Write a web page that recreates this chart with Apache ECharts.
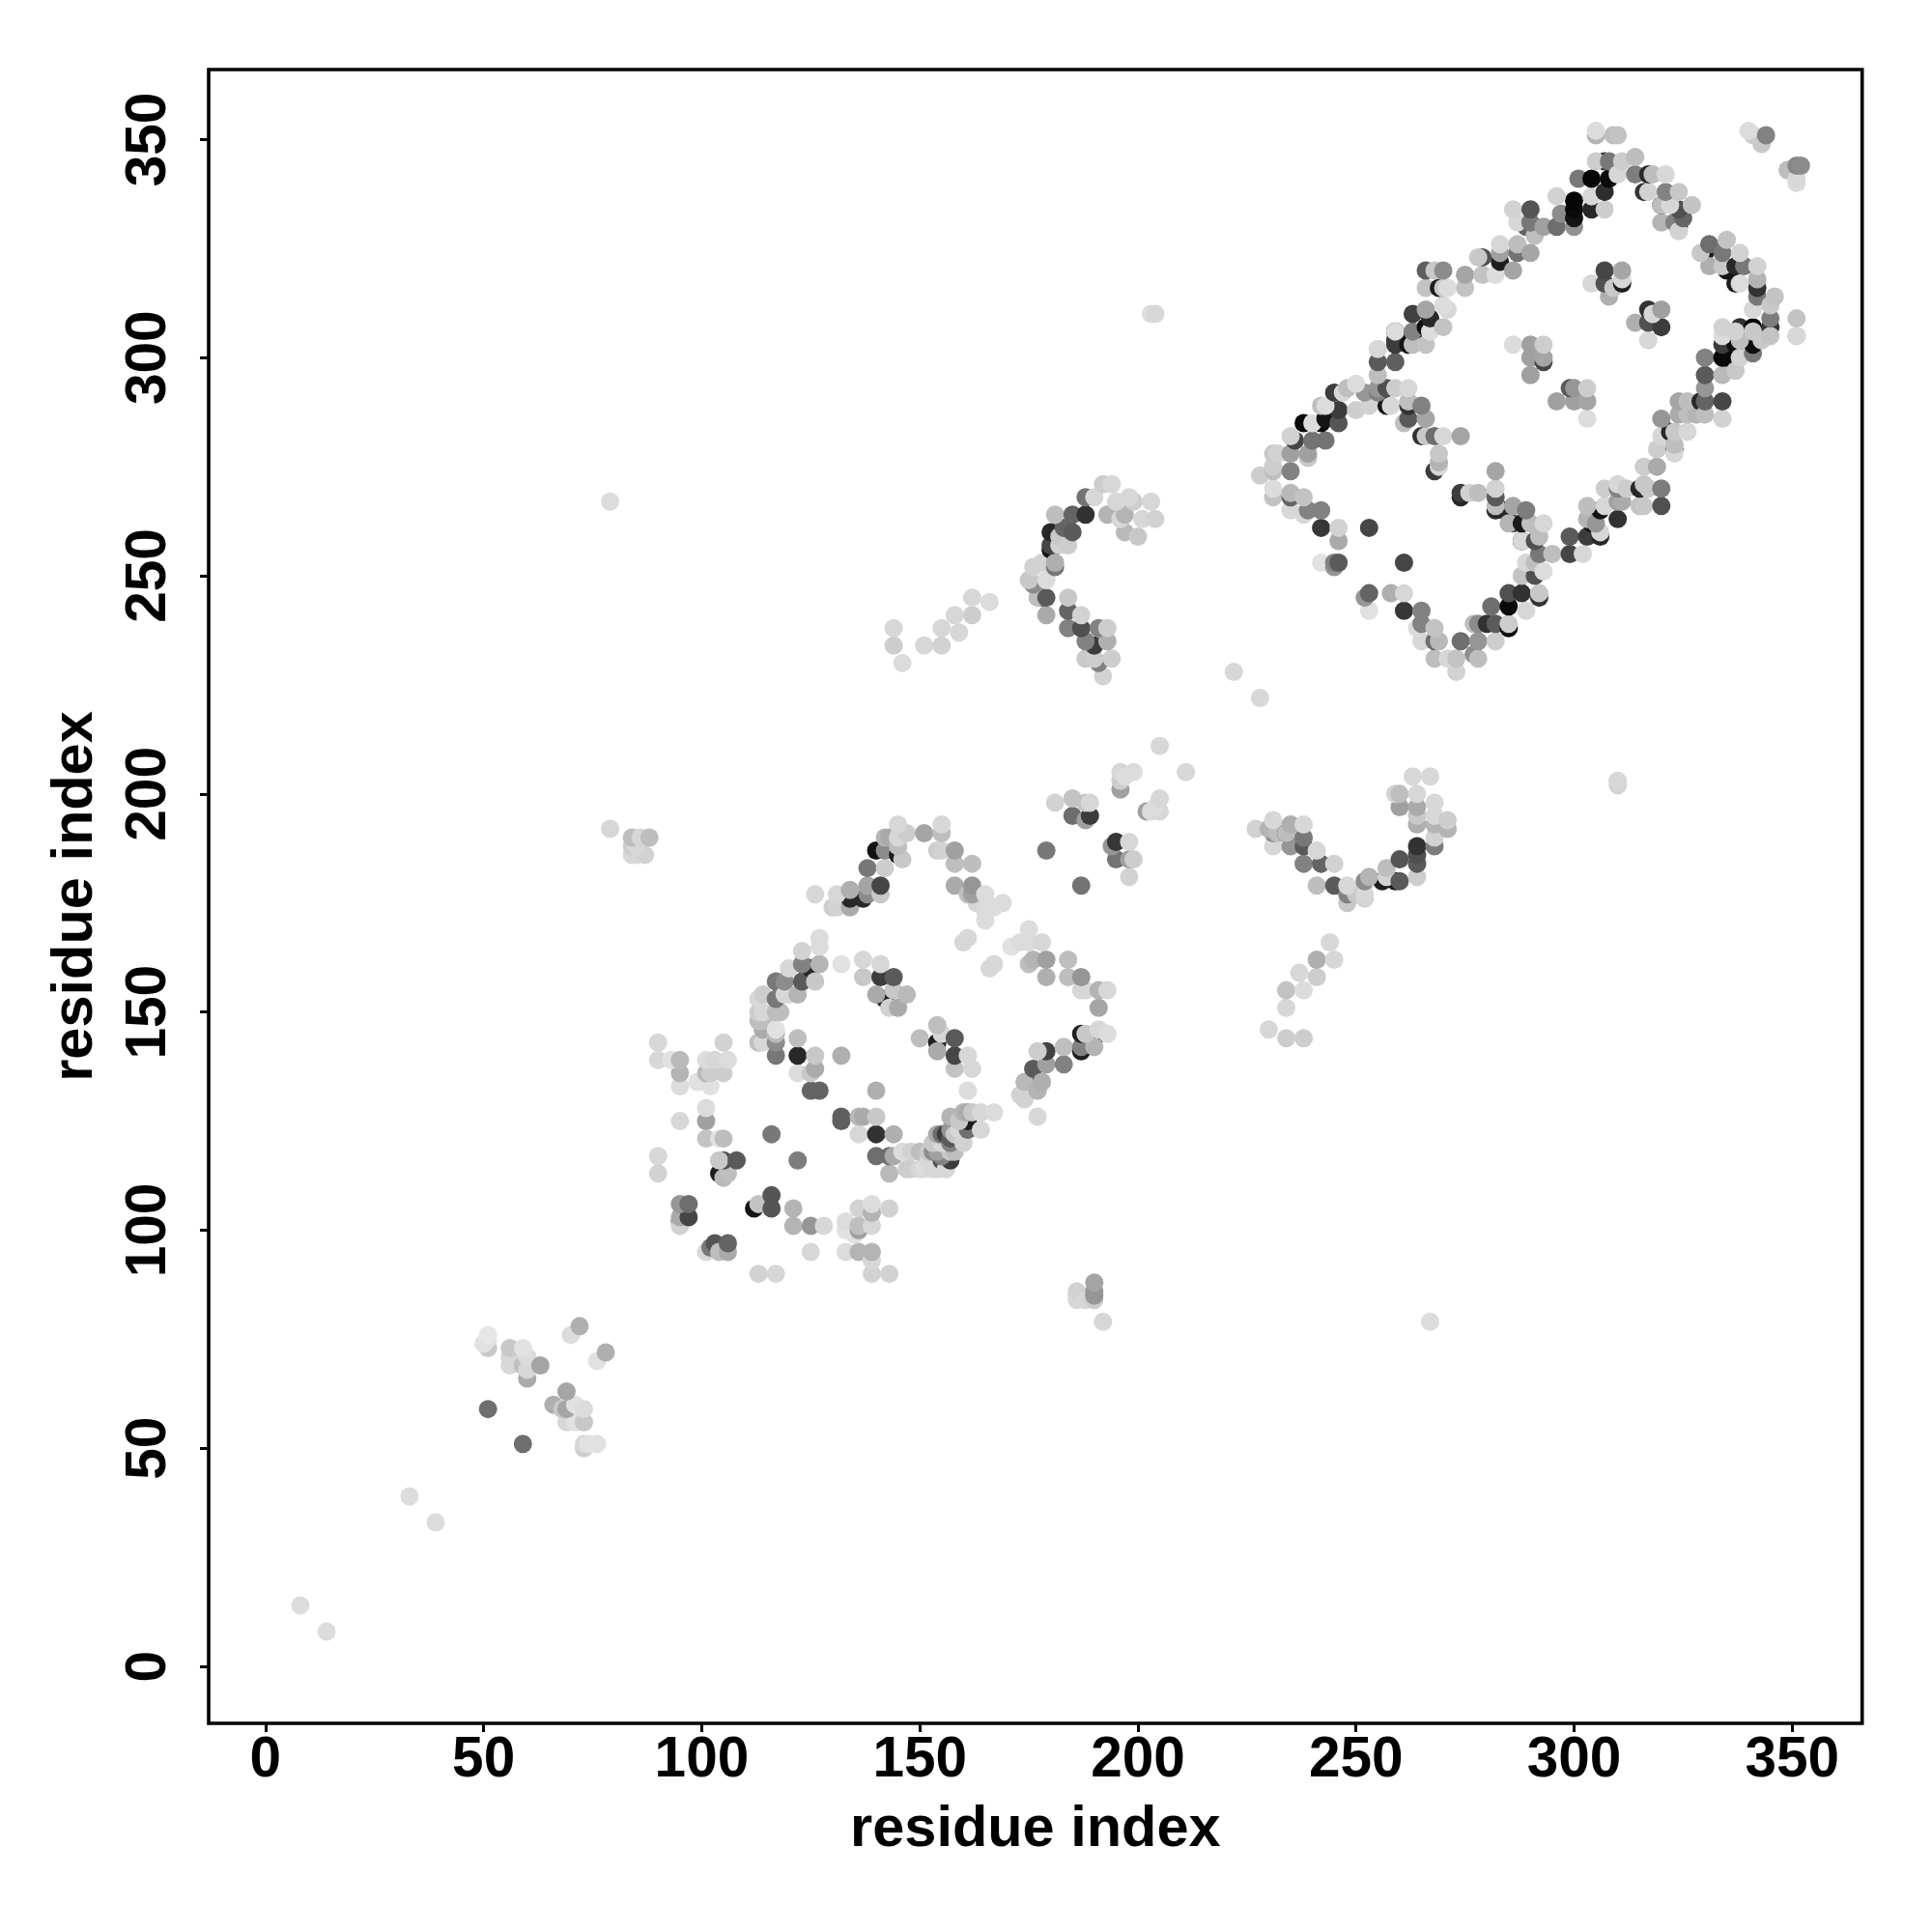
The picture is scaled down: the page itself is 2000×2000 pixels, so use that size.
<!DOCTYPE html>
<html><head><meta charset="utf-8">
<style>html,body{margin:0;padding:0;background:#fff}#c{width:2000px;height:2000px}</style>
<script src="https://cdn.jsdelivr.net/npm/echarts@6/dist/echarts.min.js"></script>
</head><body><div id="c"></div>
<script>
// each contact: [residue x, residue y, grey level 0-255]
const axisName = "residue index";
const tickValues = [0,50,100,150,200,250,300,350];
const isolated = [[8,14,220],[14,8,220],[33,39,220],[39,33,220],[79,267,220],[267,79,220],[203,310,220],[204,310,215],[310,203,215],[310,202,210],[222,228,215],[228,222,215],[79,192,215],[192,79,215],[205,211,215],[211,205,215],[166,244,220],
[84,190,190],[86,190,215],[88,190,190],[84,188,205],[85,188,215],[84,186,215],[85,186,215],[87,186,210],
[186,84,215],[186,85,215],[186,86,210],[188,84,215],[190,84,205],[190,85,150],[190,86,150],[190,88,165]];
const cluster50 = [[51,59,110],[59,51,110],[72,78,175],[70,76,220],[78,72,175],[76,70,225],[51,73,200],[50,74,225],[51,75,225],[51,76,230],[56,73,200],[56,71,215],[56,69,215],[59,73,225],[60,71,220],[59,69,190],[60,68,215],[60,66,170],[63,69,165],[69,63,165],[66,60,175],[68,59,200],[69,59,165],[69,56,215],[71,60,225],[73,59,220],[73,56,200],[71,56,225],[73,51,215],[73,50,205],[74,51,225],[76,51,225]];
const blockLowLeft = [[90,143,215],[90,139,215],[93,139,225],[95,139,185],[95,136,180],[95,133,220],[101,139,220],[103,139,215],[106,139,220],[105,143,210],[105,136,205],[101,136,185],[102,136,205],[99,134,225],[101,134,225],[102,133,225],[101,128,220],[101,125,160],[95,125,215],[101,121,195],[104,121,225],[105,121,190],[90,117,215],[90,113,210],[104,116,200],[105,116,80],[108,116,90],[104,113,30],[106,113,190],[105,112,185],[116,122,120],[122,116,125],[116,108,85],[116,105,85],[112,105,20],[113,106,195],[121,105,180],[121,101,180],[125,101,150],[128,101,215],[95,106,150],[97,106,110],[95,103,170],[97,103,70],[95,102,120],[95,101,210],[103,97,85],[101,95,215],[102,96,120],[106,97,100],[106,95,170],[104,95,190],[125,95,215],[113,90,210],[117,90,215],[133,102,220],[133,100,225],[135,99,225],[136,105,210],[139,106,220],[139,104,180],[143,105,210],[136,101,190],[136,100,160],[139,101,215],[133,95,220],[136,95,180],[139,95,180],[139,93,215],[139,90,210],[143,90,210]];
const ringOneLow = [[122,144,190],[122,140,40],[126,140,200],[122,136,220],[126,137,170],[125,136,200],[125,132,100],[127,132,100],[132,140,175],[140,132,175],[161,132,220],[132,126,95],[132,125,95],[136,126,185],[137,126,170],[140,126,200],[136,122,215],[140,122,50],[144,122,175],[140,117,110],[143,117,110],[144,117,170],[143,113,185],[147,114,205],[148,114,205],[150,114,215],[154,114,215],[146,118,220],[148,118,210],[150,118,190],[157,116,60],[157,118,200],[157,120,130],[154,122,170],[156,122,60],[157,126,180],[161,127,170],[161,125,30],[161,123,110],[164,123,215],[160,120,210],[164,127,215],[167,127,220],[177,126,215],[152,116,215],[153,114,215],[152,118,200],[154,118,160],[155,117,130],[156,114,215],[151,114,220],[155,120,215],[153,120,200],[157,123,150],[158,122,200],[159,123,215],[159,125,200],[160,127,180],[159,124,100],[162,127,200],[155,116,80],[158,118,190],[157,121,90],[155,122,110],[153,118,140]];
const ringOneTop = [[145,193,215],[147,191,205],[143,190,170],[151,191,165],[155,193,215],[155,191,190],[154,187,205],[155,187,210],[158,187,160],[158,184,190],[162,184,190],[158,179,170],[162,179,150],[161,177,190],[162,177,160],[165,177,220],[167,174,220],[169,175,220],[165,171,220],[163,175,215],[165,173,220],[161,167,215],[160,166,215],[167,161,215],[166,160,215],[141,179,70],[141,177,200],[138,179,165],[138,177,140],[137,176,40],[134,178,175],[134,176,40],[134,174,170],[131,177,215],[131,174,210],[130,174,205],[126,177,215],[138,183,120],[142,183,205],[140,187,20],[142,187,140],[145,186,30],[145,188,190],[146,185,200],[142,190,180],[144,190,50],[145,190,215]];
const ringOneLeft = [[127,167,220],[127,165,220],[123,164,210],[127,161,180],[123,161,130],[123,157,90],[126,157,200],[125,160,40],[120,160,215],[117,157,120],[119,157,140],[122,154,180],[119,154,215],[114,154,205],[117,153,120],[120,154,215],[114,150,215],[118,150,190],[117,150,190],[114,148,190],[114,146,170],[113,153,215],[113,150,205],[113,148,190],[117,146,225],[117,145,185],[117,143,140],[117,140,120],[113,143,190],[114,143,215]];
const ringOneInner = [[132,161,225],[137,162,215],[137,158,200],[141,161,215],[141,158,60],[144,158,90],[140,154,170],[142,153,30],[144,155,200],[147,154,185],[145,151,170],[143,151,210],[150,144,190],[154,147,190],[154,143,30],[155,145,215],[154,141,170],[158,144,90],[158,140,70],[161,140,215],[158,137,195],[162,137,215]];
const ringOneRight = [[179,141,65],[177,141,205],[179,138,160],[176,137,90],[178,134,175],[176,134,40],[174,134,185],[177,132,180],[173,131,210],[174,130,210],[183,138,130],[183,142,190],[187,142,130],[187,141,30],[187,145,30],[188,145,200],[190,144,40],[190,142,180],[191,146,215],[193,145,220],[175,169,220],[171,165,225],[178,166,215],[175,166,220],[173,166,220],[176,162,180],[175,161,190],[179,162,160],[179,158,175],[184,162,190],[184,158,190],[187,158,150],[187,155,215],[188,155,215],[191,155,180],[193,155,215],[191,151,165]];
const midDiagonal = [[181,198,210],[185,199,195],[185,195,110],[188,194,160],[189,198,215],[189,195,60],[188,198,195],[196,205,215],[199,205,220],[196,203,205],[196,201,160],[197,204,220],[205,199,215],[205,196,215],[203,196,220],[202,196,160],[204,197,220],[179,187,120],[187,179,115],[195,189,55],[194,188,150],[198,189,215],[195,185,115],[198,185,160],[199,185,205],[198,181,210]];
const arcLower = [[227,192,210],[231,194,215],[230,192,180],[231,191,140],[232,191,190],[235,193,175],[234,191,60],[234,191,190],[238,193,215],[238,190,120],[231,188,215],[235,188,150],[238,188,90],[238,184,130],[241,187,215],[242,184,100],[245,184,210],[241,179,190],[245,179,90],[248,179,215],[248,177,130],[248,175,200],[252,180,140],[253,181,180],[252,177,215],[252,176,210],[250,177,200],[257,183,190],[257,181,210],[256,180,30],[260,185,85],[260,180,90],[259,180,25],[264,186,80],[264,184,90],[264,181,205],[264,188,50],[268,188,125],[268,190,210],[263,204,215],[267,204,215],[260,200,190],[260,197,160],[259,200,210],[264,200,215],[264,197,170],[264,193,175],[264,195,200],[268,198,215],[268,195,215],[268,193,180],[271,194,205],[271,192,180],[244,166,215],[245,162,215],[241,162,175],[237,159,215],[241,158,205],[234,155,195],[238,155,220],[234,151,215],[230,146,215],[234,144,205],[238,144,205]];
const arcUpper = [[192,271,205],[194,271,215],[188,268,115],[190,268,215],[188,264,50],[185,264,100],[181,264,190],[193,264,180],[195,267,215],[198,268,215],[199,267,205],[203,267,215],[201,263,215],[204,263,210],[197,264,180],[196,263,215],[200,259,200],[197,260,185],[185,260,90],[183,261,100],[180,260,40],[182,259,200],[180,257,70],[180,256,20],[182,257,210],[184,257,205],[181,253,175],[181,252,120],[176,252,210],[178,253,210],[175,249,200],[179,249,220],[176,248,140],[177,245,190],[179,245,90],[178,245,90],[179,241,170],[184,245,200],[184,242,100],[187,241,210],[184,238,130],[187,238,80],[191,238,130],[193,238,205],[188,235,130],[193,235,175],[190,234,60],[188,231,200],[191,230,130],[194,231,205],[192,227,210],[190,231,205],[146,230,220],[144,234,205],[144,238,215],[151,234,215],[155,234,210],[155,238,215],[159,237,215],[158,241,215],[162,241,205],[162,245,215]];
const ringTwoLow = [[228,273,205],[231,274,190],[231,275,205],[231,278,200],[232,278,210],[235,274,130],[235,278,160],[239,278,160],[239,277,200],[236,281,70],[235,282,210],[240,281,115],[243,281,115],[238,285,10],[240,285,220],[243,289,220],[242,285,10],[246,285,85],[246,288,60],[243,286,20],[242,289,190],[231,268,195],[231,270,220],[235,269,185],[235,268,100],[238,268,195],[235,265,215],[238,264,215],[239,265,130],[242,265,130],[242,261,55],[246,261,210],[246,258,170],[253,261,70],[242,253,225],[245,252,150],[246,253,90],[245,253,130],[261,253,70],[253,246,100],[252,245,150],[253,242,225],[258,246,175],[261,246,215],[261,242,55],[265,242,130],[265,239,130],[264,238,220],[268,238,195],[265,235,215],[268,235,110],[269,235,185],[268,231,190],[271,231,215],[273,231,195],[273,228,210],[274,235,110],[278,231,190],[277,232,140],[277,239,190],[278,235,150],[278,239,140],[281,243,110],[280,239,50],[282,235,205],[282,239,90],[285,246,80],[285,243,10],[285,239,205],[285,238,15],[289,242,215],[288,246,50],[292,246,200],[292,245,50],[288,250,195],[289,253,215],[293,251,220],[291,250,80],[291,253,190],[292,255,120],[295,255,190],[299,255,70],[302,255,215],[292,259,190],[291,258,80],[299,259,90],[303,259,60],[306,259,40],[306,260,215],[288,258,215],[288,258,15],[293,262,215],[290,262,190],[288,262,25],[286,262,85],[285,262,180],[289,265,125],[286,266,165],[284,265,40],[282,270,210],[282,268,90],[282,274,165],[282,265,40],[282,266,190],[274,269,60],[274,268,40],[276,269,210],[278,269,190],[303,266,190],[307,266,215],[306,265,20],[303,263,180],[305,262,150],[304,262,20],[310,263,50],[310,267,160],[315,266,195]];
const ringTwoCross = [[268,274,60],[269,276,180],[269,278,200],[269,275,215],[274,282,165],[270,282,215],[265,282,50],[266,282,200],[268,282,110],[266,286,165],[262,286,90],[261,285,190],[262,289,50],[262,290,190],[265,289,130],[258,289,215],[257,289,25],[262,293,215],[259,293,205],[257,293,80],[255,293,150],[255,296,190],[255,292,130],[255,299,90],[259,299,95],[255,302,215],[250,288,205],[253,289,210],[250,294,220],[248,293,190],[252,292,150],[247,292,215],[245,292,60]];
const ringTwoTop = [[259,303,60],[259,304,60],[259,306,30],[259,306,220],[263,310,65],[263,303,190],[262,303,20],[266,303,195],[263,306,130],[263,305,20],[267,306,220],[266,307,15],[270,307,195],[266,311,165],[267,309,40],[271,311,215],[270,312,220],[270,316,200],[269,316,30],[266,316,195],[266,320,95],[270,320,140],[268,320,200],[271,316,220],[275,316,195],[275,319,165],[279,319,195],[282,319,220],[286,320,165],[278,323,200],[279,323,80],[283,322,30],[283,324,160],[283,326,215],[287,324,115],[287,326,190],[287,331,215],[290,324,165],[291,328,190],[289,330,100],[290,334,85],[286,334,210],[290,331,120],[293,330,160],[296,330,110],[300,330,145],[297,333,140],[296,337,210],[301,341,120],[300,334,10],[300,332,20],[300,336,5],[304,334,40],[307,334,205],[307,338,45],[304,337,215],[304,341,5],[308,341,10],[310,342,215],[305,345,205],[307,345,50],[308,345,120],[305,351,180],[305,352,220],[309,351,190],[310,351,195]];
const ringTwoRight = [[311,345,205],[314,346,190],[314,342,125],[317,342,40],[318,342,190],[321,342,215],[317,338,210],[316,338,50],[321,338,130],[324,338,200],[320,335,20],[320,335,190],[322,335,215],[324,334,80],[327,335,195],[325,332,100],[323,331,130],[324,330,25],[320,331,180],[324,329,210],[331,326,110],[330,324,25],[329,324,200],[331,321,175],[335,327,195],[334,324,120],[334,321,200],[335,320,20],[338,324,210],[339,321,120],[337,321,40],[342,321,210],[338,317,220],[337,317,30],[342,318,180],[342,316,50],[342,314,120],[346,314,195],[345,312,200],[341,311,215],[345,309,125],[345,307,50],[345,305,195],[338,307,50],[341,307,5],[341,306,200],[341,303,15],[337,306,210],[337,303,15],[338,304,190],[334,307,210],[334,303,60],[334,305,220],[341,301,120],[343,304,200],[334,300,5],[335,300,10],[330,300,130],[338,300,210],[330,296,90],[334,296,185],[337,297,200],[326,290,190],[330,293,150],[330,290,100],[329,290,40],[334,290,70],[324,290,165],[320,286,150],[324,287,170],[326,287,190],[330,287,190],[334,286,210],[328,287,180],[326,283,215],[323,283,200],[322,283,40],[320,282,215],[323,279,110],[323,280,190],[319,279,205],[323,278,215],[316,275,205],[319,275,170],[316,271,200],[320,270,125],[315,270,40],[317,270,200],[312,270,205],[307,270,205],[310,271,215],[310,270,130],[320,266,80],[316,266,200],[311,267,170]];
const ringTwoInner = [[286,303,220],[290,303,160],[293,303,205],[290,300,160],[293,299,70],[293,300,165],[290,296,160],[296,290,160],[299,293,90],[300,293,150],[303,293,205],[300,290,160],[303,290,165],[303,286,220],[307,320,70],[311,320,165],[311,317,30],[311,318,215],[304,317,215],[307,317,80],[308,314,175],[309,316,200],[317,311,50],[320,311,160],[314,308,175],[317,308,80],[320,307,60],[317,304,215],[318,310,215]];
const cornerTop = [[340,352,220],[341,351,205],[343,349,200],[343,350,110],[344,351,130],[349,343,190],[349,343,170],[350,343,90],[351,344,135],[352,344,140],[351,341,215],[351,340,220],[351,309,195],[351,305,190],[351,305,215]];

const contacts = [].concat(isolated, cluster50, blockLowLeft, ringOneLow, ringOneTop, ringOneLeft, ringOneInner, ringOneRight, midDiagonal, arcLower, arcUpper, ringTwoLow, ringTwoCross, ringTwoTop, ringTwoRight, ringTwoInner, cornerTop);
// paint order only: lower-left contacts before upper-right ones, with a slight preference for darker ones underneath
contacts.sort((a,b)=>(a[0]+a[1]+a[2]*0.015)-(b[0]+b[1]+b[2]*0.015));

const font = "'Liberation Sans', Arial, sans-serif";
const makeAxis = (rot)=>({
  type:'value', min:-13.04, max:366.04, name:axisName, nameLocation:'middle',
  nameGap: rot?107:81, nameRotate: rot?90:0,
  nameTextStyle:{fontFamily:font,fontWeight:'bold',fontSize:59.5,color:'#000'},
  splitLine:{show:false}, axisLine:{show:false,onZero:false},
  axisTick:{show:true,length:9,inside:false,lineStyle:{color:'#000',width:3},customValues:tickValues},
  axisLabel:{show:true,rotate:rot?90:0,margin:rot?32:9,fontFamily:font,fontWeight:'bold',fontSize:58.5,color:'#000',customValues:tickValues,formatter:v=>String(v)}
});
const chart = echarts.init(document.getElementById('c'),null,{renderer:'canvas',width:2000,height:2000});
chart.setOption({
  animation:false, backgroundColor:'#fff',
  grid:{show:true,left:216,right:72.3,top:72,bottom:216,borderColor:'#000',borderWidth:3.6,backgroundColor:'transparent'},
  xAxis:makeAxis(false), yAxis:makeAxis(true),
  series:[{type:'scatter',symbol:'circle',symbolSize:19,silent:true,
    data:contacts.map(c=>({value:[c[0],c[1]],itemStyle:{color:`rgb(${c[2]},${c[2]},${c[2]})`,opacity:1}}))}]
});
</script></body></html>
